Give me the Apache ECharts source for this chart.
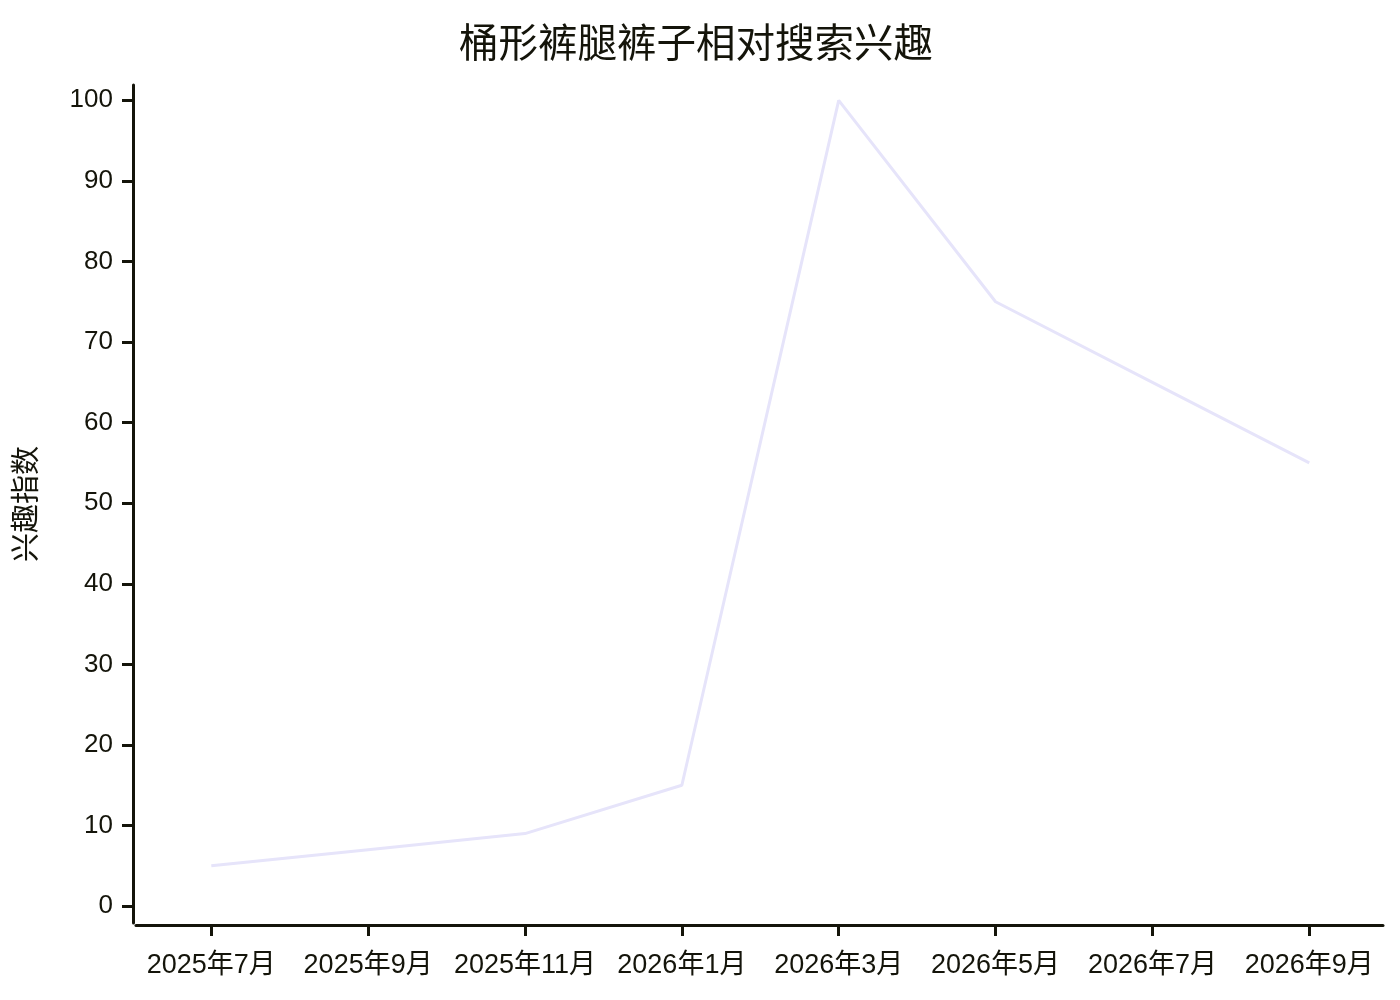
<!DOCTYPE html>
<html>
<head>
<meta charset="utf-8">
<script src="https://cdn.jsdelivr.net/npm/echarts@6/dist/echarts.min.js"></script>
<style>
html,body{margin:0;padding:0;background:#fff;}
#chart{width:1400px;height:1000px;}
</style>
</head>
<body>
<div id="chart"></div>
<script>
const categories = ['2025年7月','2025年9月','2025年11月','2026年1月','2026年3月','2026年5月','2026年7月','2026年9月'];
const interestValues = [5, 7, 9, 15, 100, 75, 65, 55];
const yTicks = [0, 10, 20, 30, 40, 50, 60, 70, 80, 90, 100];
const xTicks = categories.map((c, i) => i);

const font = '"Liberation Sans", Arial, "Noto Sans CJK SC", sans-serif';
const ink = '#14140a';

const chart = echarts.init(document.getElementById('chart'), null, {renderer: 'canvas'});
chart.setOption({
  backgroundColor: '#ffffff',
  animation: false,
  title: {
    text: '桶形裤腿裤子相对搜索兴趣',
    left: 454,
    top: 17,
    textStyle: {fontFamily: '"Noto Sans CJK SC", sans-serif', fontSize: 39.5, fontWeight: 'normal', color: ink}
  },
  grid: {left: 136, right: 17, top: 85, bottom: 77},
  xAxis: {
    type: 'value',
    min: -0.48,
    max: 7.47,
    offset: 2,
    splitLine: {show: false},
    axisLine: {show: true, onZero: false, lineStyle: {color: ink, width: 3}},
    axisTick: {show: true, customValues: xTicks, length: 11, lineStyle: {color: ink, width: 3}},
    axisLabel: {
      customValues: xTicks,
      margin: 27,
      formatter: v => categories[Math.round(v)],
      fontFamily: font, fontSize: 27, color: ink
    }
  },
  yAxis: {
    type: 'value',
    min: -2.1,
    max: 101.9,
    offset: 3,
    name: '兴趣指数',
    nameLocation: 'middle',
    nameGap: 94,
    nameRotate: 90,
    nameTextStyle: {fontFamily: '"Noto Sans CJK SC", sans-serif', fontSize: 29, color: ink},
    splitLine: {show: false},
    axisLine: {show: true, onZero: false, lineStyle: {color: ink, width: 3}},
    axisTick: {show: true, customValues: yTicks, length: 11, lineStyle: {color: ink, width: 3}},
    axisLabel: {customValues: yTicks, margin: 20, fontFamily: font, fontSize: 26, color: ink}
  },
  series: [{
    type: 'line',
    data: interestValues.map((v, i) => [i, v]),
    showSymbol: false,
    symbol: 'none',
    lineStyle: {color: '#e6e4fa', width: 3},
    z: 1
  }]
});
</script>
</body>
</html>
